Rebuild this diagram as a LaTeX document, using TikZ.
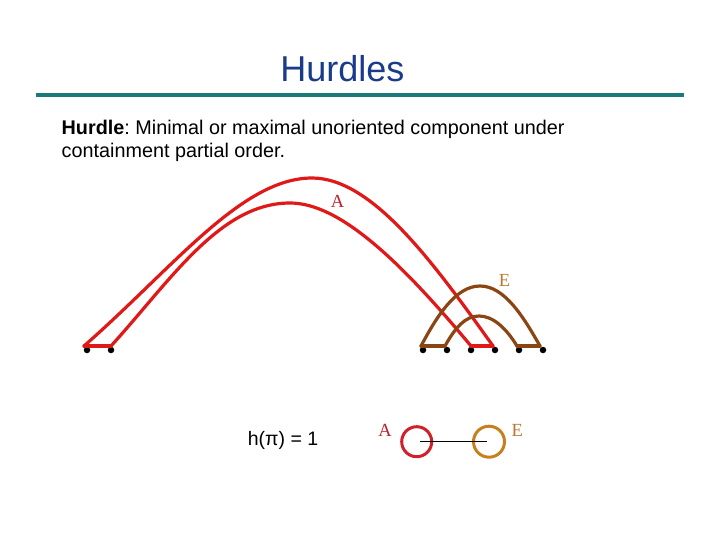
\documentclass[tikz,border=0pt]{standalone}
\usepackage{fontspec}
\setmainfont{Liberation Sans}
\newfontfamily\labelfont{Liberation Serif}
\frenchspacing
\definecolor{titleblue}{HTML}{1A3A8A}
\definecolor{ruleteal}{HTML}{1A7A7A}
\definecolor{arcred}{HTML}{E01818}
\definecolor{arcbrown}{HTML}{8B4513}
\definecolor{labred}{HTML}{C0202A}
\definecolor{labbrown}{HTML}{B87830}
\definecolor{circred}{HTML}{D0202A}
\definecolor{circbrown}{HTML}{C8801E}
\tikzset{
  redarc/.style={draw=arcred, line width=3.2pt, line cap=round, line join=round},
  brownarc/.style={draw=arcbrown, line width=3.2pt, line cap=round, line join=round},
  dotpt/.style={circle, fill=black, inner sep=0pt, minimum size=6.5pt},
  arclabel/.style={font=\labelfont\fontsize{18.5}{21}\selectfont, inner sep=0pt},
  bodytext/.style={anchor=base west, inner sep=0pt, font=\fontsize{19.8}{23}\selectfont}
}
\begin{document}
\begin{tikzpicture}[x=1pt,y=-1pt]
\useasboundingbox (0,0) rectangle (720,540);
% title and rule
\node[anchor=base, inner sep=0pt, text=titleblue, font=\fontsize{36}{43}\selectfont] (title) at (342.5,81.7) {Hurdles};
\coordinate (rl) at (36,95.5);
\coordinate (rr) at (684,95.5);
\draw[ruleteal, line width=4pt] (rl) -- (rr);
% body text
\node[bodytext] (t1) at (61.5,135) {\textbf{Hurdle}: Minimal or maximal unoriented component under};
\node[bodytext] (t2) at (61.5,158) {containment partial order.};
% dots
\foreach \i/\x in {1/87,2/111,3/423,4/447,5/471,6/495,7/519,8/543}
  \node[dotpt] (d\i) at (\x,350) {};
% arc endpoints
\coordinate (e1) at (84,346);
\coordinate (e2) at (111,346);
\coordinate (e3) at (421,346);
\coordinate (e4) at (445,346);
\coordinate (e5) at (471,346);
\coordinate (e6) at (493,346);
\coordinate (e7) at (517,346);
\coordinate (e8) at (540,346);
% red component A
\draw[redarc] (e1) .. controls (174,267) and (242,178) .. (312,178) .. controls (372,178) and (433,262) .. (e6);
\draw[redarc] (e2) .. controls (171,280) and (220,203) .. (290,203) .. controls (340,203) and (401,262) .. (e5);
\draw[redarc] (e1) -- (e2);
\draw[redarc] (e5) -- (e6);
% brown component E
\draw[brownarc] (e3) .. controls (436,318) and (455,286) .. (480,286) .. controls (505,286) and (524,318) .. (e8);
\draw[brownarc] (e4) .. controls (455,328) and (465,316) .. (479,316) .. controls (493,316) and (506,328) .. (e7);
\draw[brownarc] (e3) -- (e4);
\draw[brownarc] (e7) -- (e8);
% labels
\node[arclabel, text=labred] (la) at (337.5,201.5) {A};
\node[arclabel, text=labbrown] (le) at (504.5,280.5) {E};
% bottom
\node[inner sep=0pt, font=\fontsize{19.5}{23}\selectfont] (h) at (283,440) {h(π) = 1};
\node[circle, draw=circred, line width=3pt, minimum size=30pt, inner sep=0pt] (ca) at (416.7,441.7) {};
\node[circle, draw=circbrown, line width=3pt, minimum size=31pt, inner sep=0pt] (ce) at (489,441.7) {};
\draw[black, line width=1pt] ([xshift=3pt]ca.center) -- ([xshift=-2pt]ce.center);
\node[arclabel, text=labred] (lA) at (385,430.7) {A};
\node[arclabel, text=labbrown] (lE) at (517.3,430.7) {E};
\end{tikzpicture}
\end{document}
